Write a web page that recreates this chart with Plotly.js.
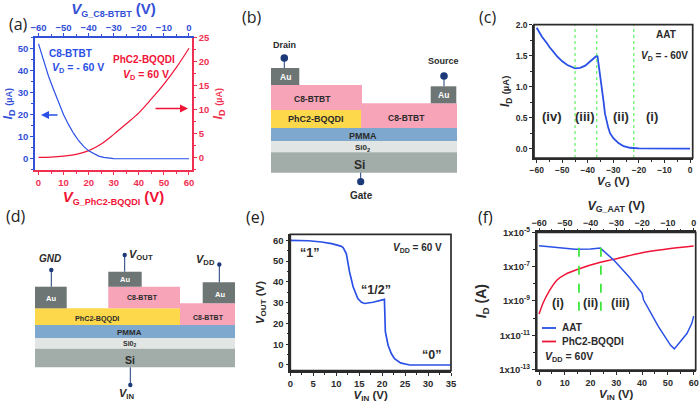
<!DOCTYPE html>
<html><head><meta charset="utf-8">
<script src="https://cdn.plot.ly/plotly-3.0.1.min.js"></script>
<style>html,body{margin:0;padding:0;background:#fff}#c{width:700px;height:403px}</style>
</head><body><div id="c"></div>
<script>
// ---- data ----
const aC8Vg   = [-60,-58,-56,-54,-52,-50,-48,-46,-44,-42,-40,-38,-36,-34,-32,-30,-28,-20,0];
const aC8Id   = [52.2,44.5,37.5,31.5,25.5,20,15.5,11.5,8.2,5.6,3.6,2.2,1.2,0.6,0.25,0.08,0.02,0,0];
const aPhVg   = [0,5,10,15,20,25,30,35,40,45,50,55,60];
const aPhId   = [0,0.05,0.25,0.6,1.4,2.8,4.8,7,9.3,12.2,15.3,18.8,22.8];
const cVg     = [-60,-58,-56,-55,-52,-50,-48,-45,-43,-41,-39,-37.5,-36.5,-36.2,-35.5,-34.6,-33.8,-33.3,-32,-31.3,-30,-28,-26,-23.5,-20,-10,0];
const cId     = [1.95,1.81,1.70,1.64,1.49,1.41,1.35,1.295,1.305,1.34,1.41,1.47,1.5,1.49,1.3,1.0,0.75,0.57,0.34,0.25,0.17,0.09,0.04,0.015,0.005,0,0];
const cRegionLines = [-45,-36.5,-22];
const eVin    = [0,4,6.8,9,11,11.5,12.2,12.9,13.7,14.7,15.5,16.2,18,20.5,20.7,21.3,22,22.7,24,25.6,26,35];
const eVout   = [60,59.8,59.2,58.4,57.2,56.5,53.6,44.8,37.5,32,30.2,29.6,30.2,31.6,16,9.5,5.5,3,1,0.1,0,0];
const fAatVg  = [-60,-55,-46,-40,-36.2,-31,-25.1,-20,-19.4,-13.6,-9,-7.5,-5.8,-2.6,-0.7,0];
const fAatLog = [-5.78,-5.86,-5.99,-5.97,-5.92,-6.62,-7.59,-8.56,-8.95,-10.51,-11.58,-11.8,-11.48,-10.9,-10.31,-9.89];
const fPhVin  = [0,1.8,3.8,7,10.2,15.4,23.8,29,40,49,60];
const fPhLog  = [-9.77,-9.05,-8.47,-7.78,-7.45,-7.14,-6.75,-6.58,-6.19,-5.99,-5.8];
const fRegionLines = [15.5,24];
const fTickExp = [-5,-7,-9,-11,-13];
const fMinorExp = [-6,-8,-10,-12];
const aBottomTicks = [0,10,20,30,40,50,60];
const aTopTicks = [-60,-50,-40,-30,-20,-10,0];

// ---- styles / helpers ----
const W=700,H=403,FONT='"Liberation Sans", Arial, sans-serif';
const BLUE='#2a50e6',RED='#f01437',AXB='#3350d8',AXR='#f03050',DARK='#2b2b2b',GREEN='#55ee55';
const PINK='#f7a3b8',YEL='#fdd84a',PMMA='#7fa8cf',SIO='#e1e6e4',SI='#a2aca8',AU='#6d7674',BALL='#1c3a78';
const dx=(l,r)=>[l/W,r/W], dy=(t,b)=>[1-b/H,1-t/H];
const pow=a=>a.map(e=>Math.pow(10,e));
const shapes=[],ann=[];
function rect(x0,x1,y0,y1,c){shapes.push({type:'rect',xref:'paper',yref:'paper',x0:x0/W,x1:x1/W,y0:1-y1/H,y1:1-y0/H,fillcolor:c,line:{width:0},layer:'above'});}
function seg(x0,y0,x1,y1,c,w){shapes.push({type:'line',xref:'paper',yref:'paper',x0:x0/W,x1:x1/W,y0:1-y0/H,y1:1-y1/H,line:{color:c,width:w}});}
function ball(x,y,r){shapes.push({type:'circle',xref:'paper',yref:'paper',x0:(x-r)/W,x1:(x+r)/W,y0:1-(y+r)/H,y1:1-(y-r)/H,fillcolor:BALL,line:{width:0}});}
function txt(x,y,t,size,color,bold,fam,anchor){ann.push({xref:'paper',yref:'paper',x:x/W,y:1-y/H,text:t,showarrow:false,xanchor:anchor||'center',yanchor:'middle',
  font:{size:size,color:color||DARK,family:fam||FONT,weight:bold===false?'normal':'bold'}});}
function arrow(x0,x1,y,c){ann.push({xref:'paper',yref:'paper',x:x1/W,y:1-y/H,axref:'pixel',ayref:'pixel',ax:x0-x1,ay:0,text:'',showarrow:true,arrowhead:2,arrowsize:1,arrowwidth:1.6,arrowcolor:c});}
function vl(xa,ya,v,c,w,d,lo,hi){shapes.push({type:'line',xref:xa,yref:ya,x0:v,x1:v,y0:lo,y1:hi,line:{color:c,width:w,dash:d}});}
function frame(xa,ya){shapes.push({type:'rect',xref:xa+' domain',yref:ya+' domain',x0:0,x1:1,y0:0,y1:1,line:{color:DARK,width:1.7},fillcolor:'rgba(0,0,0,0)',layer:'above'});}
const sm=(t,s)=>'<span style="font-size:'+s+'px">'+t+'</span>';
const base=(c,sz)=>({showgrid:false,zeroline:false,showline:true,linecolor:c,linewidth:1.6,ticks:'outside',ticklen:3,tickwidth:1.2,tickcolor:c,
  tickfont:{family:FONT,size:sz,color:c,weight:'bold'},automargin:false});
const ttl=(t,c,sz,st)=>({text:t,font:{family:FONT,size:sz,color:c,weight:'bold'},standoff:st});

// panel letters
[['(a)',18,24],['(b)',252,17],['(c)',487,17],['(d)',16,216],['(e)',255,217],['(f)',485,217]].forEach(p=>txt(p[1],p[2],p[0],16,'#222',false,'"Open Sans", sans-serif'));

// ---- panel (a) annotations ----
txt(70,54,'C8-BTBT',10,BLUE);
txt(78,68,'<i>V</i><sub>D</sub> = - 60 V',10.5,BLUE);
txt(144,59.5,'PhC2-BQQDI',10,RED);
txt(146,75,'<i>V</i><sub>D</sub> = 60 V',10.5,RED);
arrow(59,41,115,BLUE);
arrow(154,188,108.5,RED);

// ---- panel (b) device ----
rect(271,457,128,141,PMMA);rect(271,457,141,152.3,SIO);rect(271,457,152.3,172.7,SI);
rect(271,361,110,128,YEL);rect(361,457,103.3,128,PINK);rect(271,362,85,110,PINK);
rect(271,299.3,68,85,AU);rect(430.7,456.3,86.3,103.3,AU);
seg(284.3,58,284.3,68,BALL,1);seg(444,76,444,86.3,BALL,1);seg(360.7,172.7,360.7,181,BALL,1);
ball(284.3,58,3.8);ball(444,76,3.8);ball(360.7,181.7,3.6);
txt(284.5,45,'Drain',9);txt(443,61,'Source',9);txt(361,195.5,'Gate',10);
txt(285,77,'Au',8.5,'#fff');txt(443.7,95,'Au',8.5,'#fff');
txt(312,99,'C8-BTBT',8.5);txt(406,118,'C8-BTBT',8.5);txt(316,119,'PhC2-BQQDI',9);
txt(363,136,'PMMA',9);txt(362,148,'Si0<sub>2</sub>',8);txt(360,165,'Si',12);

// ---- panel (d) device ----
rect(35,235,325,338,PMMA);rect(35,235,338,348.7,SIO);rect(35,235,348.7,367.3,SI);
rect(35,180,308.3,325,YEL);rect(180,235,303.3,325,PINK);rect(108.3,180,286.7,308.3,PINK);
rect(35,66.7,286.7,308.3,AU);rect(108.3,141.7,271.7,286.7,AU);rect(202.7,235,282.3,303.3,AU);
seg(51.3,270,51.3,286.7,BALL,1);seg(124.7,255,124.7,271.7,BALL,1);seg(219.3,264,219.3,282.3,BALL,1);seg(130.3,367.3,130.3,385,BALL,1);
ball(51.3,270,2.2);ball(124.7,255,2.2);ball(219.3,264.5,2.2);ball(130.3,385,2.2);
txt(50,258,'<i>GND</i>',10);txt(141,255,'<i>V</i><sub>OUT</sub>',11);txt(206,260,'<i>V</i><sub>DD</sub>',11);txt(126,394,'<i>V</i><sub>IN</sub>',11);
txt(51,298,'Au',7.5,'#fff');txt(125,279,'Au',7.5,'#fff');txt(220,294,'Au',7.5,'#fff');
txt(142.5,297,'C8-BTBT',7);txt(208,317,'C8-BTBT',7);txt(97,318,'PhC2-BQQDI',7.2);
txt(129,332.5,'PMMA',8);txt(130,343.5,'Si0<sub>2</sub>',7);txt(130,360,'Si',10.5);

// ---- panel (c) annotations ----
txt(666,34,'AAT',10);txt(664,56,'<i>V</i><sub>D</sub> = - 60V',10);
txt(552,117,'(iv)',13);txt(585,117,'(iii)',13);txt(621,117,'(ii)',13);txt(652,117,'(i)',13);
cRegionLines.forEach(v=>vl('x3','y3',v,GREEN,1.1,'dot',-0.15,2.0));
frame('x3','y3');

// ---- panel (e) annotations ----
txt(417,248,'<i>V</i><sub>DD</sub> = 60 V',10);
['“1”','“1/2”','“0”'].forEach((s,i)=>txt([309,376,431][i],[253,290,355][i],s,12.5,DARK));
frame('x4','y4');

// ---- panel (f) annotations ----
txt(558,303,'(i)',12.5);txt(590,303,'(ii)',12.5);txt(620,303,'(iii)',12.5);
fRegionLines.forEach(v=>vl('x5','y5',v,'#3ee63e',1.8,'dash',Math.pow(10,-9.58),Math.pow(10,-5.49)));
seg(542,328,556,328,BLUE,1.8);seg(542,341.5,556,341.5,RED,1.8);
txt(560,327.5,'AAT',10,DARK,true,null,'left');
txt(560,341.5,'PhC2-BQQDI',10,DARK,true,null,'left');
txt(569,357,'<i>V</i><sub>DD</sub> = 60V',10.5);
frame('x5','y5');

const data=[
 {x:aC8Vg,y:aC8Id,xaxis:'x2',yaxis:'y',mode:'lines',name:'C8-BTBT',line:{color:BLUE,width:1.2}},
 {x:aPhVg,y:aPhId,xaxis:'x',yaxis:'y2',mode:'lines',name:'PhC2-BQQDI',line:{color:RED,width:1.2,shape:'spline'}},
 {x:cVg,y:cId,xaxis:'x3',yaxis:'y3',mode:'lines',name:'AAT',line:{color:BLUE,width:1.8}},
 {x:eVin,y:eVout,xaxis:'x4',yaxis:'y4',mode:'lines',name:'VOUT',line:{color:BLUE,width:1.7}},
 {x:fAatVg,y:pow(fAatLog),xaxis:'x6',yaxis:'y5',mode:'lines',name:'AAT',line:{color:BLUE,width:1.5}},
 {x:fPhVin,y:pow(fPhLog),xaxis:'x5',yaxis:'y5',mode:'lines',name:'PhC2-BQQDI',line:{color:RED,width:1.5,shape:'spline'}}
];
const minor=(d,c,l)=>({dtick:d,ticks:'outside',ticklen:l||2,tickcolor:c,tickwidth:1});

const layout={width:W,height:H,margin:{l:0,r:0,t:0,b:0},paper_bgcolor:'#fff',plot_bgcolor:'rgba(0,0,0,0)',showlegend:false,font:{family:FONT},
 // (a)
 xaxis:Object.assign(base(AXR,9.5),{domain:dx(35,192),range:[-1.4,61.2],tickmode:'array',tickvals:aBottomTicks,anchor:'y',minor:minor(5,AXR),title:ttl('<i>V</i><sub>'+sm('G_PhC2-BQQDI',9)+'</sub> (V)',RED,15,3)}),
 xaxis2:Object.assign(base(AXB,9.5),{overlaying:'x',side:'top',anchor:'y',range:[-61.4,1.2],tickmode:'array',tickvals:aTopTicks,ticklabelstandoff:-2,minor:minor(5,AXB),title:ttl('<i>V</i><sub>'+sm('G_C8-BTBT',9)+'</sub> (V)',AXB,15,5)}),
 yaxis:Object.assign(base(AXB,9.5),{domain:dy(37.7,170),range:[-5.1,55],dtick:10,tick0:0,anchor:'x',minor:minor(5,AXB),title:ttl('<i>I</i><sub>D</sub> '+sm('(µA)',9),AXB,13,3)}),
 yaxis2:Object.assign(base(AXR,9.5),{overlaying:'y',side:'right',anchor:'x',range:[-2.65,25],dtick:5,tick0:0,minor:minor(2.5,AXR),title:ttl('<i>I</i><sub>D</sub> '+sm('(µA)',9),AXR,13,3)}),
 // (c)
 xaxis3:Object.assign(base(DARK,8.5),{domain:dx(534,692.7),range:[-61.05,1.05],dtick:10,tick0:0,anchor:'y3',minor:minor(5,DARK),title:ttl('<i>V</i><sub>G</sub> (V)',DARK,11.5,3)}),
 yaxis3:Object.assign(base(DARK,8.5),{domain:dy(24.7,158),range:[-0.15,2.0],dtick:0.5,tick0:0,tickformat:'.1f',anchor:'x3',minor:minor(0.25,DARK),title:ttl('<i>I</i><sub>D</sub> '+sm('(µA)',9.5),DARK,12,3)}),
 // (e)
 xaxis4:Object.assign(base(DARK,9.5),{domain:dx(290.3,451),range:[0,35],dtick:5,tick0:0,anchor:'y4',minor:minor(2.5,DARK),title:ttl('<i>V</i><sub>IN</sub> (V)',DARK,11.5,2)}),
 yaxis4:Object.assign(base(DARK,9.5),{domain:dy(234.3,370.7),range:[-2.75,62.9],dtick:10,tick0:0,anchor:'x4',minor:minor(5,DARK),title:ttl('<i>V</i><sub>OUT</sub> (V)',DARK,11.5,6)}),
 // (f)
 xaxis5:Object.assign(base(DARK,9),{domain:dx(536.7,695.7),range:[-0.9,60.8],dtick:10,tick0:0,anchor:'y5',minor:minor(5,DARK),title:ttl('<i>V</i><sub>IN</sub> (V)',DARK,11.5,2)}),
 xaxis6:Object.assign(base(DARK,9),{overlaying:'x5',side:'top',anchor:'y5',range:[-60.9,0.8],dtick:10,tick0:0,ticklabelstandoff:-2,minor:minor(5,DARK),title:ttl('<i>V</i><sub>G_AAT</sub> (V)',DARK,12.5,5)}),
 yaxis5:Object.assign(base(DARK,9.5),{domain:dy(232.3,370),type:'log',range:[-13.03,-5],anchor:'x5',tickmode:'array',
   tickvals:pow(fTickExp),ticktext:fTickExp.map(e=>'1x10<sup>'+e+'</sup>'),
   minor:{tickmode:'array',tickvals:pow(fMinorExp),ticks:'outside',ticklen:2,tickcolor:DARK,tickwidth:1},title:ttl('<i>I</i><sub>D</sub> (A)',DARK,14,9)}),
 shapes:shapes,annotations:ann
};
Plotly.newPlot('c',data,layout,{displayModeBar:false});
</script></body></html>
